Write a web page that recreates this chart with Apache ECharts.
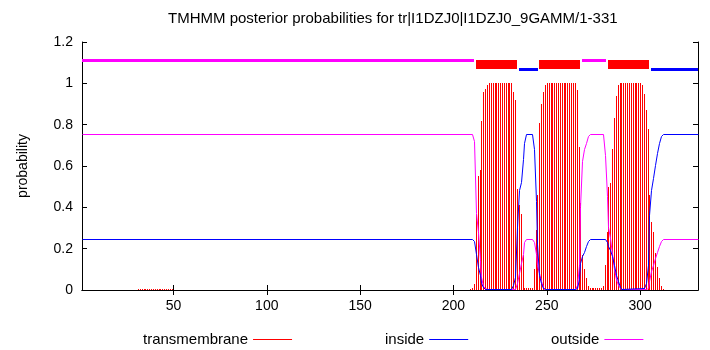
<!DOCTYPE html>
<html>
<head>
<meta charset="utf-8">
<title>TMHMM posterior probabilities</title>
<script src="https://cdn.jsdelivr.net/npm/echarts@6/dist/echarts.min.js"></script>
<style>
  html, body { margin: 0; padding: 0; background: #fff; }
  #chart { width: 710px; height: 350px; }
</style>
</head>
<body>
<div id="chart"></div>
<script>
// TMHMM output for tr|I1DZJ0|I1DZJ0_9GAMM, residues 1-331
const seqLength = 331;
const xTicks = [50, 100, 150, 200, 250, 300];

// transmembrane posterior, [residue, probability] (residues not listed are 0)
const transmembrane = [
  [31, 0.005], [32, 0.005], [33, 0.005], [34, 0.005], [35, 0.005], [36, 0.005], [37, 0.005],
  [38, 0.005], [39, 0.005], [40, 0.005], [41, 0.005], [42, 0.005], [43, 0.005], [44, 0.005],
  [45, 0.005], [46, 0.005], [47, 0.005], [48, 0.005], [49, 0.005],
  [209, 0.005], [210, 0.01], [211, 0.03], [212, 0.37], [213, 0.55], [214, 0.58], [215, 0.82],
  [216, 0.96], [217, 0.975], [218, 0.99], [219, 1], [220, 1], [221, 1], [222, 1], [223, 1],
  [224, 1], [225, 1], [226, 1], [227, 1], [228, 1], [229, 1], [230, 1], [231, 1],
  [232, 0.96], [233, 0.92], [234, 0.49], [235, 0.41], [236, 0.37], [237, 0.17], [238, 0.01],
  [239, 0.008], [240, 0.008], [241, 0.008], [242, 0.01], [243, 0.1],
  [244, 0.29], [245, 0.46], [246, 0.81], [247, 0.9], [248, 0.96], [249, 0.99], [250, 1],
  [251, 1], [252, 1], [253, 1], [254, 1], [255, 1], [256, 1], [257, 1], [258, 1], [259, 1],
  [260, 1], [261, 1], [262, 1], [263, 1], [264, 1], [265, 1],
  [266, 0.97], [267, 0.69], [268, 0.42], [269, 0.17], [270, 0.1], [271, 0.06], [272, 0.02],
  [273, 0.008], [274, 0.008], [275, 0.008], [276, 0.008], [277, 0.008], [278, 0.008], [279, 0.008],
  [280, 0.02], [281, 0.12], [282, 0.28], [283, 0.5], [284, 0.52], [285, 0.68], [286, 0.83],
  [287, 0.94], [288, 0.99], [289, 1], [290, 1], [291, 1], [292, 1], [293, 1], [294, 1],
  [295, 1], [296, 1], [297, 1], [298, 1], [299, 1], [300, 1],
  [301, 0.99], [302, 0.95], [303, 0.87], [304, 0.78], [305, 0.46], [306, 0.33], [307, 0.28],
  [308, 0.18], [309, 0.11], [310, 0.06], [311, 0.02], [312, 0.005]
];

// inside posterior, [residue, probability]
const inside = [
  [1, 0.245], [210, 0.245], [211, 0.235], [212, 0.17], [213, 0.11], [214, 0.07], [215, 0.03],
  [216, 0.01], [217, 0], [231, 0], [232, 0.02], [233, 0.06], [234, 0.3], [235, 0.48],
  [236, 0.52], [237, 0.63], [238, 0.71], [239, 0.75], [242, 0.75], [243, 0.68], [244, 0.43],
  [245, 0.22], [246, 0.07], [247, 0.03], [248, 0.005], [249, 0], [265, 0], [266, 0.005],
  [267, 0.05], [268, 0.13], [269, 0.16], [270, 0.18], [271, 0.21], [272, 0.235], [273, 0.245],
  [281, 0.245], [282, 0.23], [283, 0.21], [284, 0.19], [285, 0.16], [286, 0.12], [287, 0.07],
  [288, 0.04], [289, 0.01], [290, 0], [302, 0.005], [303, 0.03], [304, 0.12], [305, 0.36],
  [306, 0.48], [307, 0.54], [308, 0.6], [309, 0.66], [310, 0.71], [311, 0.74], [312, 0.75],
  [331, 0.75]
];

// outside posterior, [residue, probability]
const outside = [
  [1, 0.75], [210, 0.75], [211, 0.72], [212, 0.37], [213, 0.28], [214, 0.14], [215, 0.06],
  [216, 0.016], [217, 0.005], [218, 0], [233, 0], [234, 0.03], [235, 0.08], [236, 0.13],
  [237, 0.17], [238, 0.23], [239, 0.245], [242, 0.245], [243, 0.23], [244, 0.17], [245, 0.12],
  [246, 0.08], [247, 0.04], [248, 0.01], [249, 0], [265, 0], [266, 0.02], [267, 0.12],
  [268, 0.4], [269, 0.62], [270, 0.68], [271, 0.71], [272, 0.74], [273, 0.75], [280, 0.75],
  [281, 0.65], [282, 0.45], [283, 0.3], [284, 0.25], [285, 0.17], [286, 0.1], [287, 0.05],
  [288, 0.02], [289, 0.005], [290, 0], [303, 0], [304, 0.005], [305, 0.04], [306, 0.09],
  [307, 0.12], [308, 0.15], [309, 0.18], [310, 0.21], [311, 0.235], [312, 0.245], [331, 0.245]
];

// predicted topology
const topoStart = [1, 212, 235, 246, 269, 283, 306];
const topoEnd = [211, 234, 245, 268, 282, 305, 331];
const topoKind = ['outside', 'TMhelix', 'inside', 'TMhelix', 'outside', 'TMhelix', 'inside'];

const FONT = 'Liberation Sans, Arial, Helvetica, sans-serif';
const RED = '#ff0000';
const BLUE = '#0000ff';
const MAGENTA = '#ff00ff';

// y level / thickness of the topology bar on top
const topoStyle = {
  outside: { y: 1.111, h: 3, color: MAGENTA },
  inside: { y: 1.068, h: 3, color: BLUE },
  TMhelix: { y: 1.09, h: 9, color: RED },
};

const chart = echarts.init(document.getElementById('chart'), null, { renderer: 'canvas' });

// gnuplot style: 1px impulses, pixel aligned
function renderImpulse(params, api) {
  const top = api.coord([api.value(0), api.value(1)]);
  const base = api.coord([api.value(0), 0]);
  const y0 = Math.round(top[1]);
  return {
    type: 'rect',
    shape: { x: Math.round(top[0]), y: y0, width: 1, height: Math.max(1, Math.round(base[1]) - y0) },
    style: { fill: RED },
  };
}

// whole curve as one polyline, snapped to pixel centres
function curveRenderer(points, color) {
  return function (params, api) {
    if (params.dataIndex !== 0) return null;
    const pts = points.map(p => {
      const c = api.coord(p);
      return [Math.round(c[0]) + 0.5, Math.round(c[1] - 0.6) + 0.5];
    });
    return {
      type: 'polyline',
      shape: { points: pts },
      style: { stroke: color, fill: null, lineWidth: 1 },
    };
  };
}

const legendBase = {
  top: 332,
  padding: 0,
  align: 'right',
  icon: 'rect',
  itemWidth: 39,
  itemHeight: 1,
  selectedMode: false,
  textStyle: { fontSize: 15, color: '#000', fontFamily: FONT },
};

const option = {
  animation: false,
  backgroundColor: '#fff',
  color: [RED, BLUE, MAGENTA],
  title: {
    text: 'TMHMM posterior probabilities for tr|I1DZJ0|I1DZJ0_9GAMM/1-331',
    left: 168,
    top: 11,
    padding: 0,
    textStyle: { fontSize: 15, fontWeight: 'normal', color: '#000', fontFamily: FONT },
  },
  legend: [
    Object.assign({ data: ['transmembrane'], left: 143 }, legendBase),
    Object.assign({ data: ['inside'], left: 385 }, legendBase),
    Object.assign({ data: ['outside'], left: 551 }, legendBase),
  ],
  grid: { left: 82, right: 12, top: 42, bottom: 60, containLabel: false },
  xAxis: [
    {
      type: 'value',
      min: 1,
      max: seqLength,
      axisLine: { lineStyle: { color: '#000', width: 1 } },
      axisTick: { inside: true, length: 5, customValues: xTicks, lineStyle: { color: '#000' } },
      axisLabel: { customValues: xTicks, fontSize: 14, color: '#000', fontFamily: FONT, margin: 9 },
      splitLine: { show: false },
    },
    {
      type: 'value',
      position: 'top',
      min: 1,
      max: seqLength,
      axisLine: { show: true, lineStyle: { color: '#000', width: 1 } },
      axisTick: { inside: true, length: 5, customValues: xTicks, lineStyle: { color: '#000' } },
      axisLabel: { show: false },
      splitLine: { show: false },
    },
  ],
  yAxis: [
    {
      type: 'value',
      min: 0,
      max: 1.2,
      interval: 0.2,
      name: 'probability',
      nameLocation: 'middle',
      nameGap: 52,
      nameRotate: 90,
      nameTextStyle: { fontSize: 14, color: '#000', fontFamily: FONT },
      axisLine: { show: true, lineStyle: { color: '#000', width: 1 } },
      axisTick: { show: true, inside: true, length: 5, lineStyle: { color: '#000' } },
      axisLabel: { fontSize: 14, color: '#000', fontFamily: FONT, margin: 9 },
      splitLine: { show: false },
    },
    {
      type: 'value',
      position: 'right',
      min: 0,
      max: 1.2,
      interval: 0.2,
      axisLine: { show: true, lineStyle: { color: '#000', width: 1 } },
      axisTick: { show: true, inside: true, length: 5, lineStyle: { color: '#000' } },
      axisLabel: { show: false },
      splitLine: { show: false },
    },
  ],
  series: [
    {
      name: 'transmembrane',
      type: 'custom',
      itemStyle: { color: RED },
      clip: true,
      z: 2,
      encode: { x: 0, y: 1 },
      data: transmembrane,
      renderItem: renderImpulse,
    },
    {
      name: 'inside',
      type: 'custom',
      itemStyle: { color: BLUE },
      z: 4,
      encode: { x: 0, y: 1 },
      data: inside,
      renderItem: curveRenderer(inside, BLUE),
    },
    {
      name: 'outside',
      type: 'custom',
      itemStyle: { color: MAGENTA },
      z: 3,
      encode: { x: 0, y: 1 },
      data: outside,
      renderItem: curveRenderer(outside, MAGENTA),
    },
    {
      name: 'topology',
      type: 'custom',
      clip: true,
      z: 5,
      encode: { x: [0, 1] },
      data: topoStart.map((s, i) => [s, topoEnd[i]]),
      renderItem(params, api) {
        const st = topoStyle[topoKind[params.dataIndex]];
        const a = api.coord([api.value(0), st.y]);
        const b = api.coord([api.value(1), st.y]);
        return {
          type: 'rect',
          shape: { x: Math.round(a[0]), y: Math.round(a[1] - st.h / 2), width: Math.round(b[0] - a[0]), height: st.h },
          style: { fill: st.color },
        };
      },
    },
  ],
};

chart.setOption(option);
</script>
</body>
</html>
